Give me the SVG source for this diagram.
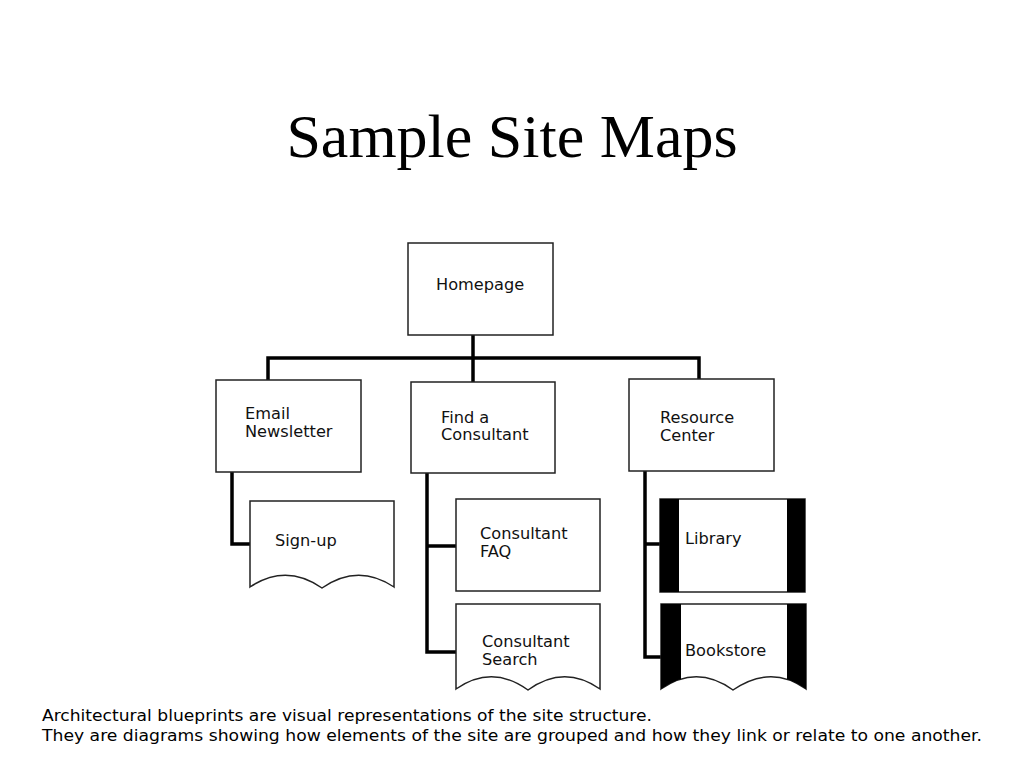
<svg xmlns="http://www.w3.org/2000/svg" width="1024" height="768" viewBox="0 0 1024 768">
<style>
.box{fill:#fff;stroke:#222;stroke-width:1.5}
.lbl{font-family:"DejaVu Sans","Liberation Sans",sans-serif;font-size:16.2px;fill:#111}
.conn{fill:none;stroke:#000;stroke-width:3.5;stroke-linejoin:miter}
.title{font-family:"Liberation Serif","Times New Roman",serif;font-size:62px;fill:#000}
.foot{font-family:"DejaVu Sans","Liberation Sans",sans-serif;font-size:16.5px;fill:#000}
</style>
<defs>
<clipPath id="clipBook"><path d="M661,604 H806 V689 Q771,664 733,690 Q697,664 661,689 Z"/></clipPath>
</defs>
<rect width="1024" height="768" fill="#fff"/>
<text class="title" x="512" y="157" text-anchor="middle">Sample Site Maps</text>

<g id="connectors">
<path class="conn" d="M473,335 V382"/>
<path class="conn" d="M268,380 V358 H699 V379"/>
<path class="conn" d="M232,472 V544 H250"/>
<path class="conn" d="M427,473 V652 H456 M427,546 H456"/>
<path class="conn" d="M645,471 V657 H661 M645,544 H660"/>
</g>

<g id="homepage">
<rect class="box" x="408" y="243" width="145" height="92"/>
<text class="lbl" x="436" y="290">Homepage</text>
</g>
<g id="email-newsletter">
<rect class="box" x="216" y="380" width="145" height="92"/>
<text class="lbl" x="245" y="419">Email</text>
<text class="lbl" x="245" y="437">Newsletter</text>
</g>
<g id="find-consultant">
<rect class="box" x="411" y="382" width="144" height="91"/>
<text class="lbl" x="441" y="423">Find a</text>
<text class="lbl" x="441" y="440">Consultant</text>
</g>
<g id="resource-center">
<rect class="box" x="629" y="379" width="145" height="92"/>
<text class="lbl" x="660" y="423">Resource</text>
<text class="lbl" x="660" y="441">Center</text>
</g>
<g id="sign-up">
<path class="box" d="M250,501 H394 V587 Q358,563 322,588 Q286,563 250,587 Z"/>
<text class="lbl" x="275" y="546">Sign-up</text>
</g>
<g id="consultant-faq">
<rect class="box" x="456" y="499" width="144" height="92"/>
<text class="lbl" x="480" y="539">Consultant</text>
<text class="lbl" x="480" y="557">FAQ</text>
</g>
<g id="consultant-search">
<path class="box" d="M456,604 H600 V689 Q564,664 528,690 Q492,664 456,689 Z"/>
<text class="lbl" x="482" y="647">Consultant</text>
<text class="lbl" x="482" y="665">Search</text>
</g>
<g id="library">
<rect class="box" x="660" y="499" width="145" height="93"/>
<rect x="660" y="499" width="19" height="93" fill="#000"/>
<rect x="787" y="499" width="18" height="93" fill="#000"/>
<text class="lbl" x="685" y="544">Library</text>
</g>
<g id="bookstore">
<path class="box" d="M661,604 H806 V689 Q771,664 733,690 Q697,664 661,689 Z"/>
<g clip-path="url(#clipBook)">
<rect x="661" y="604" width="20" height="90" fill="#000"/>
<rect x="787" y="604" width="19" height="90" fill="#000"/>
</g>
<text class="lbl" x="685" y="656">Bookstore</text>
</g>

<text class="foot" x="42" y="721" textLength="610" lengthAdjust="spacingAndGlyphs">Architectural blueprints are visual representations of the site structure.</text>
<text class="foot" x="42" y="741" textLength="940" lengthAdjust="spacingAndGlyphs">They are diagrams showing how elements of the site are grouped and how they link or relate to one another.</text>
</svg>
